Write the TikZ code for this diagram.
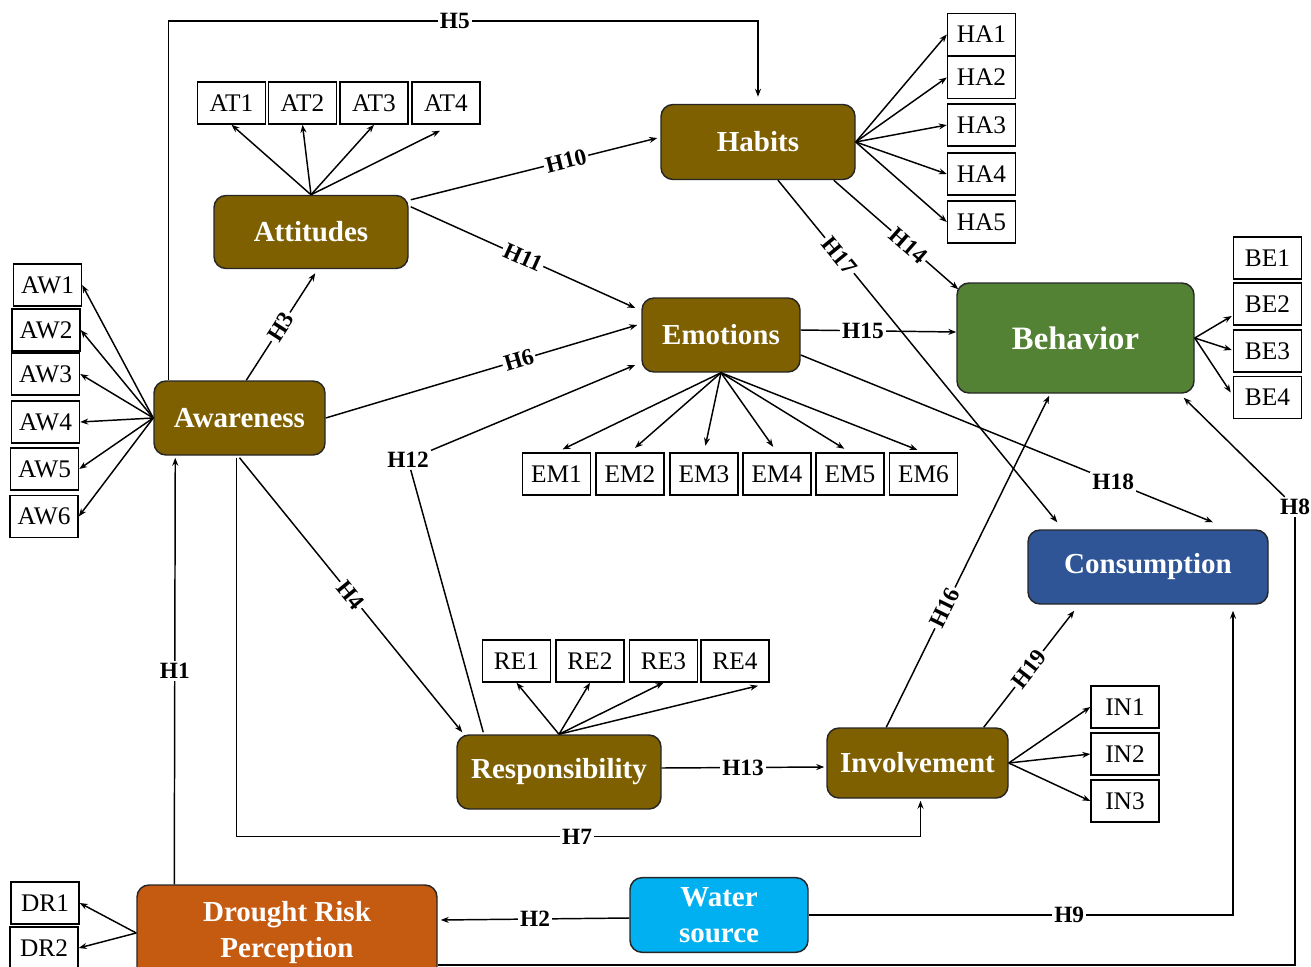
\documentclass[tikz,border=0pt]{standalone}
\usepackage{fontspec}
\setmainfont{Liberation Serif}
\usetikzlibrary{arrows.meta,calc}
\definecolor{cbrown}{HTML}{7F6000}
\definecolor{cgreen}{HTML}{548235}
\definecolor{cblue}{HTML}{2F5597}
\definecolor{corange}{HTML}{C55A11}
\definecolor{ccyan}{HTML}{00B0F0}
\tikzset{
  construct/.style={draw=black!85, line width=1.1pt, rounded corners=9pt, text=white,
    font=\fontsize{21.75}{27}\selectfont\bfseries, align=center, inner sep=0pt},
  ind/.style={draw=black, line width=1.1pt, minimum width=51pt, minimum height=31.5pt,
    inner sep=0pt, font=\fontsize{19}{22}\selectfont},
  arr/.style={-{Stealth[length=6pt,width=4.5pt]}, line width=1.1pt},
  ln/.style={line width=1.1pt},
  lab/.style={fill=white, inner sep=1.5pt, font=\fontsize{17.5}{20}\selectfont\bfseries},
}
\begin{document}
\begin{tikzpicture}[x=0.75pt,y=-0.75pt]
\useasboundingbox (0,0) rectangle (1311,967);
% constructs
\node[construct, fill=cbrown, minimum width=145.5pt, minimum height=54.75pt] (att) at (311,232) {Attitudes};
\node[construct, fill=cbrown, minimum width=145.5pt, minimum height=56.25pt] (hab) at (758,142) {Habits};
\node[construct, fill=cbrown, minimum width=118.5pt, minimum height=55.5pt] (emo) at (721,335) {Emotions};
\node[construct, fill=cgreen, minimum width=177.75pt, minimum height=82.5pt, font=\fontsize{24.5}{29}\selectfont\bfseries] (beh) at (1075.5,338) {Behavior};
\node[construct, fill=cbrown, minimum width=128.25pt, minimum height=55.5pt] (awa) at (239.5,418) {Awareness};
\node[construct, fill=cblue, minimum width=180pt, minimum height=55.5pt] (cons) at (1148,567) {Consumption};
\node[construct, fill=cbrown, minimum width=153pt, minimum height=55.5pt] (res) at (559,772) {Responsibility};
\node[construct, fill=cbrown, minimum width=135.75pt, minimum height=52.5pt] (inv) at (917.5,763) {Involvement};
\node[construct, fill=corange, minimum width=225pt, minimum height=72pt] (dro) at (287,933) {Drought Risk\\Perception};
\node[construct, fill=ccyan, minimum width=133.5pt, minimum height=56pt] (wat) at (719,915) {Water\\source};
% indicators
\node[ind] (AT1) at (231.5,103) {AT1};
\node[ind] (AT2) at (302.5,103) {AT2};
\node[ind] (AT3) at (374,103) {AT3};
\node[ind] (AT4) at (446,103) {AT4};
\node[ind] (HA1) at (981.5,34.5) {HA1};
\node[ind] (HA2) at (981.5,77.5) {HA2};
\node[ind] (HA3) at (981.5,125) {HA3};
\node[ind] (HA4) at (981.5,174) {HA4};
\node[ind] (HA5) at (981.5,222) {HA5};
\node[ind] (BE1) at (1267.5,258) {BE1};
\node[ind] (BE2) at (1267.5,304) {BE2};
\node[ind] (BE3) at (1267.5,351) {BE3};
\node[ind] (BE4) at (1267.5,397.5) {BE4};
\node[ind] (AW1) at (47.5,285) {AW1};
\node[ind] (AW2) at (46,330) {AW2};
\node[ind] (AW3) at (45.5,374) {AW3};
\node[ind] (AW4) at (45.5,422) {AW4};
\node[ind] (AW5) at (44.5,469) {AW5};
\node[ind] (AW6) at (44,516.5) {AW6};
\node[ind] (EM1) at (556.5,474) {EM1};
\node[ind] (EM2) at (630,474) {EM2};
\node[ind] (EM3) at (704,474) {EM3};
\node[ind] (EM4) at (777,474) {EM4};
\node[ind] (EM5) at (850,474) {EM5};
\node[ind] (EM6) at (923.5,474) {EM6};
\node[ind] (RE1) at (516.5,661) {RE1};
\node[ind] (RE2) at (590,661) {RE2};
\node[ind] (RE3) at (663.5,661) {RE3};
\node[ind] (RE4) at (735,661) {RE4};
\node[ind] (IN1) at (1125,707) {IN1};
\node[ind] (IN2) at (1125,754) {IN2};
\node[ind] (IN3) at (1125,801) {IN3};
\node[ind] (DR1) at (45,903) {DR1};
\node[ind] (DR2) at (44,948) {DR2};
% indicator arrows
\foreach \i in {AT1,AT2,AT3} \draw[arr] (att.north) -- (\i.south);
\draw[arr] (att.north) -- ($(AT4.south)+(-6,6)$);
\foreach \i in {HA1,HA2,HA3,HA4,HA5} \draw[arr] (hab.east) -- (\i.west);
\draw[arr] (beh.east) -- ($(BE2.west)+(-1,12)$);
\draw[arr] (beh.east) -- ($(BE3.west)+(-1,-1)$);
\draw[arr] (beh.east) -- ($(BE4.west)+(-2,-5)$);
\foreach \i in {AW1,AW2,AW3,AW4,AW5,AW6} \draw[arr] (awa.west) -- (\i.east);
\foreach \i in {EM1,EM2,EM3,EM4,EM5,EM6} \draw[arr, shorten >=5pt] (emo.south) -- (\i.north);
\foreach \i in {RE1,RE2,RE3} \draw[arr] (res.north) -- (\i.south);
\draw[arr] (res.north) -- ($(RE4.south)+(23,3)$);
\foreach \i in {IN1,IN2,IN3} \draw[arr] (inv.east) -- (\i.west);
\foreach \i in {DR1,DR2} \draw[arr] (dro.west) -- (\i.east);
% hypotheses
\draw[arr] ($(dro.north west)+(38,0)$) -- node[lab]{H1} ($(awa.south west)+(22,2)$);
\draw[arr] ($(wat.west)+(0,3)$) -- node[lab]{H2} ($(dro.east)+(3,-13)$);
\draw[arr] ($(awa.north west)+(93,0)$) -- node[lab,sloped]{H3} ($(att.south west)+(102,4)$);
\draw[arr] ($(awa.south)+(0,2)$) -- node[lab,sloped,pos=0.5]{H4} ($(res.north west)+(6,-2)$);
\draw[arr] ($(awa.north west)+(15,0)$) |- node[lab,pos=0.743]{H5} ($(hab.north)+(0,-83)$) -- ($(hab.north)+(0,-7)$);
\draw[arr] (awa.east) -- node[lab,sloped,pos=0.62]{H6} ($(emo.west)+(-4,-10)$);
\draw[arr] ($(awa.south west)+(83,2)$) |- node[lab,pos=0.749]{H7} ($(inv.south)+(3,38)$) -- ($(inv.south)+(3,2)$);
\node[lab] (h8) at (1295,507) {H8};
\draw[ln] ($(dro.east)+(0,32)$) -| (h8);
\draw[arr] (h8) -- ($(beh.south east)+(-11,4)$);
\draw[arr] (wat.east) -| node[lab,pos=0.307]{H9} ($(cons.south)+(85,6)$);
\draw[arr] ($(att.north east)+(2,5)$) -- node[lab,sloped,pos=0.63]{H10} ($(hab.west)+(-3,-4)$);
\draw[arr] ($(att.north east)+(2,12)$) -- node[lab,sloped,pos=0.5]{H11} ($(emo.west)+(-6,-27)$);
\node[lab] (h12) at (408,460) {H12};
\draw[arr] ($(res.north west)+(27,-2)$) -- (h12) -- ($(emo.west)+(-6,30)$);
\draw[arr] ($(res.east)+(0,-4)$) -- node[lab]{H13} ($(inv.west)+(-2,4)$);
\draw[arr] ($(hab.south east)+(-22,0)$) -- node[lab,sloped,pos=0.6]{H14} ($(beh.north west)+(2,7)$);
\draw[arr] ($(inv.north west)+(60,0)$) -- node[lab,sloped,pos=0.36]{H16} ($(beh.south west)+(93,2)$);
\draw[arr] ($(hab.south)+(20,0)$) -- node[lab,sloped,pos=0.22]{H17} ($(cons.north west)+(30,-7)$);
\draw[arr] ($(emo.east)+(0,20)$) -- node[lab,pos=0.758]{H18} ($(cons.north)+(65,-7)$);
\draw[arr] ($(inv.north east)+(-25,0)$) -- node[lab,sloped,pos=0.5]{H19} ($(cons.south west)+(47,6)$);
\draw[arr] ($(emo.east)+(0,-5)$) -- node[lab,pos=0.4]{H15} ($(beh.west)+(0,-6)$);
\end{tikzpicture}
\end{document}
